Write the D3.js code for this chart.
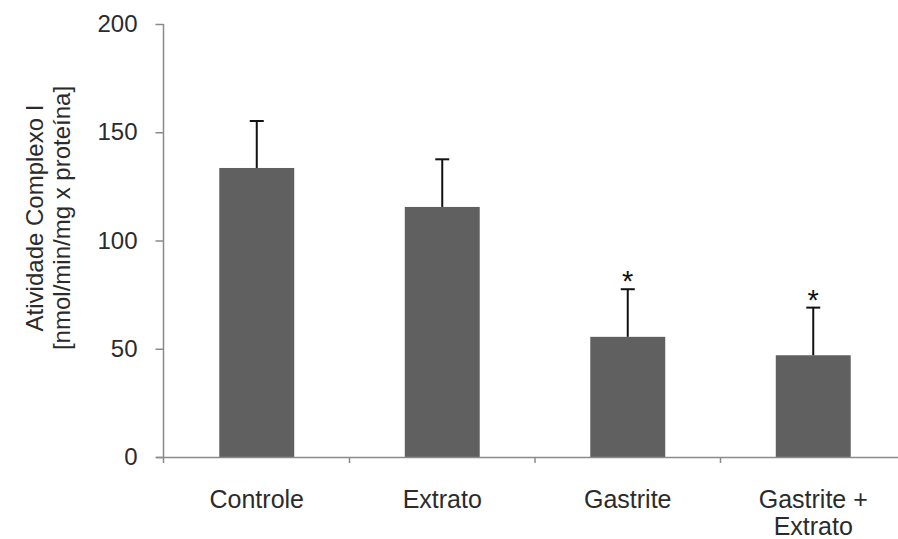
<!DOCTYPE html>
<html>
<head>
<meta charset="utf-8">
<script src="https://cdn.jsdelivr.net/npm/d3@7"></script>
<style>
  html, body { margin: 0; padding: 0; background: #fff; }
  svg { display: block; }
  text { font-family: "Liberation Sans", Arial, sans-serif; fill: #2b2b2b; }
</style>
</head>
<body>
<svg id="chart" width="898" height="539"></svg>
<script>
// Complex I activity per group (mean and SD, nmol/min/mg protein)
const groups = ["Controle", "Extrato", "Gastrite", "Gastrite + Extrato"];
const labelLines = [["Controle"], ["Extrato"], ["Gastrite"], ["Gastrite +", "Extrato"]];
const means = [133.5, 115.5, 55.5, 47];
const sds = [21.7, 22, 22, 22];
const significant = [false, false, true, true];
const yTicks = [0, 50, 100, 150, 200];
const yTitle = ["Atividade Complexo I", "[nmol/min/mg x proteína]"];

const svg = d3.select("#chart");
const plotLeft = 164, plotRight = 906, plotTop = 24, plotBottom = 457;

const y = d3.scaleLinear().domain([0, 200]).range([plotBottom, plotTop]);
const x = d3.scaleBand().domain(groups).range([plotLeft, plotRight])
  .paddingInner(0.596).paddingOuter(0.298);
const xCell = d3.scaleBand().domain(groups).range([plotLeft, plotRight]).padding(0);

// bars
svg.append("g").selectAll("rect").data(groups).join("rect")
  .attr("x", d => x(d))
  .attr("width", x.bandwidth())
  .attr("y", (d, i) => y(means[i]))
  .attr("height", (d, i) => y(0) - y(means[i]))
  .attr("fill", "#606060");

// upward error bars, with significance marks above the caps
const eb = svg.append("g").attr("stroke", "#111").attr("stroke-width", 2);
groups.forEach((d, i) => {
  const cx = x(d) + x.bandwidth() / 2;
  const capY = y(means[i] + sds[i]);
  eb.append("line").attr("x1", cx).attr("x2", cx)
    .attr("y1", y(means[i])).attr("y2", capY);
  eb.append("line").attr("x1", cx - 7).attr("x2", cx + 7)
    .attr("y1", capY).attr("y2", capY);
  if (significant[i]) {
    svg.append("text").attr("x", cx).attr("y", capY + 2)
      .attr("text-anchor", "middle").attr("font-size", 29)
      .style("fill", "#111").text("*");
  }
});

// y axis
const yAxis = svg.append("g").attr("transform", `translate(${plotLeft - 0.5},0)`)
  .call(d3.axisLeft(y).tickValues(yTicks).tickSize(8).tickPadding(18).tickSizeOuter(0));
yAxis.select(".domain").attr("stroke", "#8a8a8a").attr("stroke-width", 1.5)
  .attr("d", `M0,${plotTop}V${plotBottom + 6}`);
yAxis.selectAll(".tick line").attr("stroke", "#8a8a8a").attr("stroke-width", 1.5);
yAxis.selectAll(".tick text").attr("font-size", 24).style("fill", "#2b2b2b")
  .attr("font-family", "Liberation Sans, Arial, sans-serif");

// x axis with ticks at category boundaries
const xg = svg.append("g");
xg.append("line").attr("x1", plotLeft - 8).attr("x2", plotRight)
  .attr("y1", plotBottom + 0.5).attr("y2", plotBottom + 0.5)
  .attr("stroke", "#8a8a8a").attr("stroke-width", 1.5);
groups.slice(1).forEach(d => {
  xg.append("line").attr("x1", xCell(d)).attr("x2", xCell(d))
    .attr("y1", plotBottom).attr("y2", plotBottom + 6)
    .attr("stroke", "#8a8a8a").attr("stroke-width", 1.5);
});

// category labels
groups.forEach((d, i) => {
  const cx = x(d) + x.bandwidth() / 2;
  const t = svg.append("text").attr("x", cx).attr("y", plotBottom + 51)
    .attr("text-anchor", "middle").attr("font-size", 25);
  labelLines[i].forEach((line, j) => {
    t.append("tspan").attr("x", cx).attr("dy", j === 0 ? 0 : 27).text(line);
  });
});

// y axis title
const yt = svg.append("text").attr("transform", "translate(43,218) rotate(-90)")
  .attr("text-anchor", "middle").attr("font-size", 24);
yTitle.forEach((line, j) => {
  yt.append("tspan").attr("x", 0).attr("dy", j === 0 ? 0 : 27).text(line);
});
</script>
</body>
</html>
